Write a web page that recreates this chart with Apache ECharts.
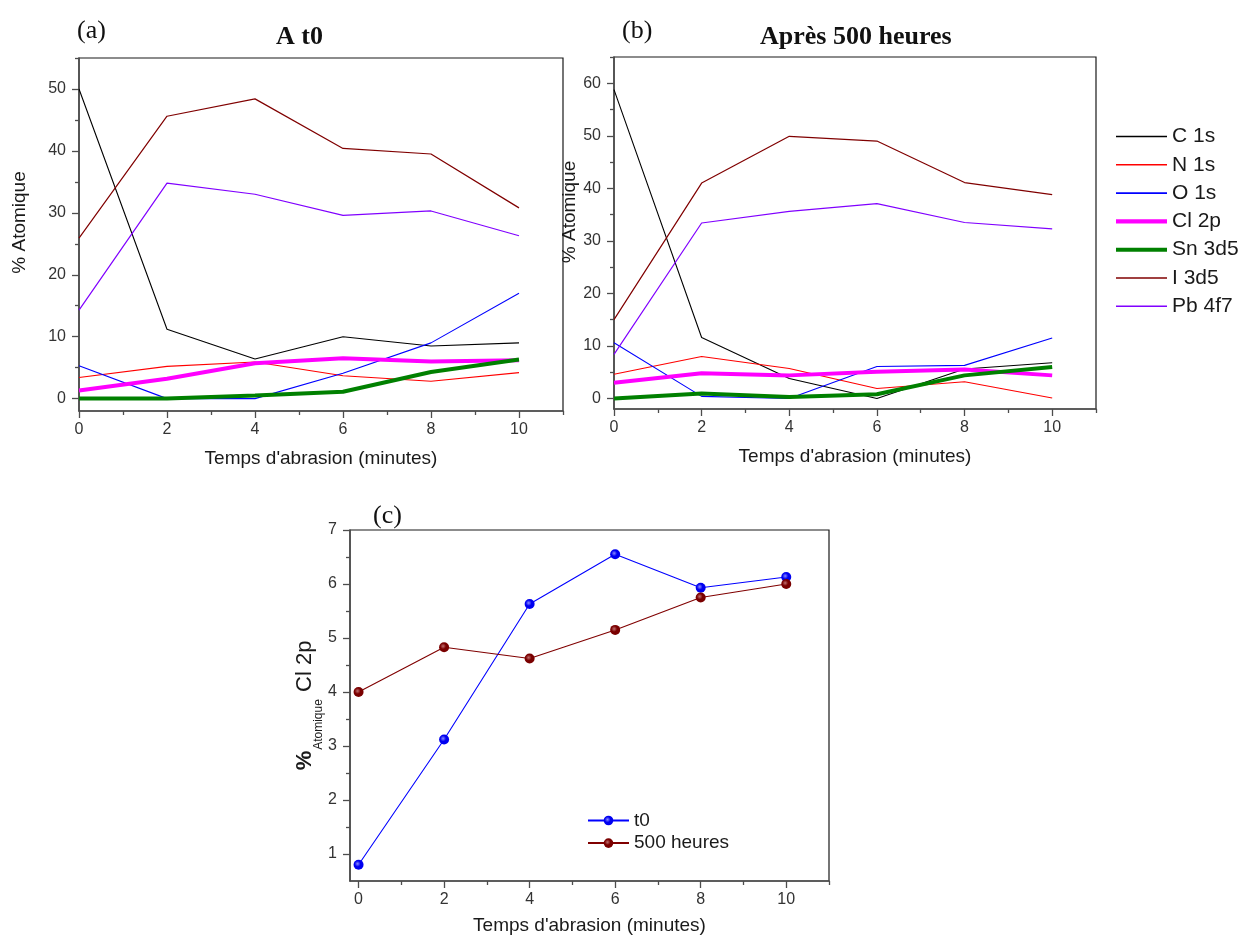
<!DOCTYPE html>
<html>
<head>
<meta charset="utf-8">
<script src="https://cdn.jsdelivr.net/npm/echarts@6/dist/echarts.min.js"></script>
<style>html,body{margin:0;padding:0;background:#fff}#chart{width:1250px;height:935px}</style>
</head>
<body>
<div id="chart"></div>
<script>
// ---------- data ----------
const minutes = [0, 2, 4, 6, 8, 10];
const elements = ['C 1s', 'N 1s', 'O 1s', 'Cl 2p', 'Sn 3d5', 'I 3d5', 'Pb 4f7'];

// (a) A t0
const t0_C  = [50.0, 11.2, 6.4, 10.0, 8.5, 9.0];
const t0_N  = [3.4, 5.2, 5.9, 3.7, 2.8, 4.2];
const t0_O  = [5.3, 0.0, 0.0, 4.1, 9.0, 17.0];
const t0_Cl = [1.3, 3.2, 5.7, 6.5, 6.0, 6.2];
const t0_Sn = [0.0, 0.0, 0.5, 1.1, 4.3, 6.3];
const t0_I  = [25.9, 45.6, 48.4, 40.4, 39.5, 30.8];
const t0_Pb = [14.3, 34.8, 33.0, 29.6, 30.3, 26.3];

// (b) Après 500 heures
const h500_C  = [58.8, 11.6, 3.8, 0.0, 5.6, 6.8];
const h500_N  = [4.6, 8.0, 5.7, 1.9, 3.2, 0.1];
const h500_O  = [10.6, 0.4, 0.0, 6.1, 6.3, 11.5];
const h500_Cl = [3.0, 4.8, 4.4, 5.1, 5.5, 4.4];
const h500_Sn = [0.0, 0.95, 0.3, 0.8, 4.4, 6.0];
const h500_I  = [15.0, 41.0, 49.9, 49.0, 41.1, 38.8];
const h500_Pb = [8.4, 33.4, 35.6, 37.1, 33.5, 32.3];

// (c) Cl 2p
const cl_t0  = [0.80, 3.12, 5.63, 6.55, 5.93, 6.13];
const cl_500 = [4.00, 4.83, 4.62, 5.15, 5.75, 6.00];

// tick values
const xMajor = [0, 2, 4, 6, 8, 10];
const xMinor = [1, 3, 5, 7, 9, 11];
const yMajorA = [0, 10, 20, 30, 40, 50];
const yMinorA = [5, 15, 25, 35, 45, 55];
const yMajorB = [0, 10, 20, 30, 40, 50, 60];
const yMinorB = [5, 15, 25, 35, 45, 55, 65];
const yMajorC = [1, 2, 3, 4, 5, 6, 7];
const yMinorC = [1.5, 2.5, 3.5, 4.5, 5.5, 6.5];

// ---------- styling ----------
const SANS = "'Liberation Sans', Arial, sans-serif";
const SERIF = "'Liberation Serif', 'Times New Roman', serif";
const AXC = '#4d4d4d';
const elemColors = ['#000000', '#ff0000', '#0000ff', '#ff00ff', '#008000', '#800000', '#8000ff'];
const elemWidths = [1.1, 1.1, 1.1, 4, 4, 1.2, 1.2];

function xAxes(grid, min, max, name, nameGap) {
  return [{
    type: 'value', gridIndex: grid, min: min, max: max, position: 'bottom',
    name: name, nameLocation: 'middle', nameGap: nameGap,
    nameTextStyle: { fontFamily: SANS, fontSize: 19, color: '#1a1a1a' },
    axisLine: { show: true, onZero: false, lineStyle: { color: AXC, width: 1.5 } },
    axisTick: { show: true, inside: false, length: 7, customValues: xMajor, lineStyle: { color: AXC, width: 1.3 } },
    axisLabel: { show: true, margin: 11, customValues: xMajor, fontFamily: SANS, fontSize: 16, color: '#333' },
    splitLine: { show: false }
  }, {
    type: 'value', gridIndex: grid, min: min, max: max, position: 'bottom',
    axisLine: { show: false, onZero: false },
    axisTick: { show: true, inside: false, length: 4, customValues: xMinor, lineStyle: { color: AXC, width: 1.3 } },
    axisLabel: { show: false }, splitLine: { show: false }
  }];
}
function yAxes(grid, min, max, major, minor, name, nameGap, nameStyle) {
  return [{
    type: 'value', gridIndex: grid, min: min, max: max, position: 'left',
    name: name, nameLocation: 'middle', nameGap: nameGap,
    nameTextStyle: nameStyle,
    axisLine: { show: true, onZero: false, lineStyle: { color: AXC, width: 1.5 } },
    axisTick: { show: true, inside: false, length: 7, customValues: major, lineStyle: { color: AXC, width: 1.3 } },
    axisLabel: { show: true, margin: 13, customValues: major, fontFamily: SANS, fontSize: 16, color: '#333' },
    splitLine: { show: false }
  }, {
    type: 'value', gridIndex: grid, min: min, max: max, position: 'left',
    axisLine: { show: false, onZero: false },
    axisTick: { show: true, inside: false, length: 4, customValues: minor, lineStyle: { color: AXC, width: 1.3 } },
    axisLabel: { show: false }, splitLine: { show: false }
  }];
}

function pairs(ys) { return minutes.map((x, i) => [x, ys[i]]); }

const setA = [t0_C, t0_N, t0_O, t0_Cl, t0_Sn, t0_I, t0_Pb];
const setB = [h500_C, h500_N, h500_O, h500_Cl, h500_Sn, h500_I, h500_Pb];

const series = [];
[[setA, 0], [setB, 2]].forEach(([set, axisIdx]) => {
  set.forEach((vals, k) => {
    series.push({
      type: 'line', name: elements[k], xAxisIndex: axisIdx, yAxisIndex: axisIdx,
      data: pairs(vals), symbol: 'none', showSymbol: false,
      lineStyle: { color: elemColors[k], width: elemWidths[k] },
      itemStyle: { color: elemColors[k] },
      emphasis: { disabled: true }
    });
  });
});
function ball(light, dark) {
  return { type: 'radial', x: 0.4, y: 0.4, r: 0.65,
    colorStops: [{ offset: 0, color: light }, { offset: 0.45, color: dark }, { offset: 1, color: dark }] };
}
series.push({
  type: 'line', name: 't0', xAxisIndex: 4, yAxisIndex: 4, data: pairs(cl_t0),
  symbol: 'circle', symbolSize: 10, showSymbol: true,
  lineStyle: { color: '#0000ff', width: 1.1 },
  itemStyle: { color: ball('#8c8cff', '#0000f0'), borderWidth: 0 },
  emphasis: { disabled: true }
});
series.push({
  type: 'line', name: '500 heures', xAxisIndex: 4, yAxisIndex: 4, data: pairs(cl_500),
  symbol: 'circle', symbolSize: 10, showSymbol: true,
  lineStyle: { color: '#800000', width: 1.1 },
  itemStyle: { color: ball('#c07070', '#7a0000'), borderWidth: 0 },
  emphasis: { disabled: true }
});

const yNameStyleAB = (pad) => ({ fontFamily: SANS, fontSize: 19, color: '#1a1a1a', padding: [0, 0, 0, pad] });
const yNameStyleC = {
  fontFamily: SANS, color: '#1a1a1a',
  rich: {
    p: { fontFamily: SANS, fontSize: 22, fontWeight: 'bold', color: '#1a1a1a', verticalAlign: 'top', lineHeight: 24 },
    s: { fontFamily: SANS, fontSize: 12, color: '#1a1a1a', verticalAlign: 'top', lineHeight: 12, padding: [18, 1, 0, 1] },
    n: { fontFamily: SANS, fontSize: 22, color: '#1a1a1a', verticalAlign: 'top', lineHeight: 24 }
  }
};

const titleStyle = (size, weight) => ({ fontFamily: SERIF, fontSize: size, fontWeight: weight, color: '#111' });

const thin = 'path://M0,0H50V1.6H0Z';
const thick = 'path://M0,0H50V4H0Z';
const legendIcons = [thin, thin, thin, thick, thick, thin, thin];

const option = {
  animation: false,
  backgroundColor: '#ffffff',
  title: [
    { text: '(a)', left: 77, top: 18, padding: 0, textStyle: titleStyle(26, 'normal') },
    { text: 'A t0', left: 276, top: 24, padding: 0, textStyle: titleStyle(26, 'bold') },
    { text: '(b)', left: 622, top: 18, padding: 0, textStyle: titleStyle(26, 'normal') },
    { text: 'Après 500 heures', left: 760, top: 24, padding: 0, textStyle: titleStyle(26, 'bold') },
    { text: '(c)', left: 373, top: 503, padding: 0, textStyle: titleStyle(26, 'normal') }
  ],
  grid: [
    { left: 79, top: 58, width: 484, height: 353, show: true, borderColor: '#1a1a1a', borderWidth: 1.2, backgroundColor: 'transparent', outerBoundsMode: 'none', containLabel: false },
    { left: 614, top: 57, width: 482, height: 352, show: true, borderColor: '#1a1a1a', borderWidth: 1.2, backgroundColor: 'transparent', outerBoundsMode: 'none', containLabel: false },
    { left: 350, top: 530, width: 479, height: 351, show: true, borderColor: '#1a1a1a', borderWidth: 1.2, backgroundColor: 'transparent', outerBoundsMode: 'none', containLabel: false }
  ],
  xAxis: [].concat(
    xAxes(0, 0, 11, "Temps d'abrasion (minutes)", 38),
    xAxes(1, 0, 11, "Temps d'abrasion (minutes)", 38),
    xAxes(2, -0.2, 11, "Temps d'abrasion (minutes)", 35)
  ),
  yAxis: [].concat(
    yAxes(0, -2, 55, yMajorA, yMinorA, '% Atomique', 50, yNameStyleAB(24)),
    yAxes(1, -2, 65, yMajorB, yMinorB, '% Atomique', 32, yNameStyleAB(42)),
    yAxes(2, 0.5, 7, yMajorC, yMinorC, '{p|%}{s|Atomique}{n| Cl 2p}', 24, yNameStyleC)
  ),
  legend: [
    {
      data: elements.map((n, i) => ({ name: n, icon: legendIcons[i] })),
      orient: 'vertical', left: 1116, top: 126, padding: 0,
      itemWidth: 51, itemHeight: 14, itemGap: 7.3, selectedMode: false,
      itemStyle: { borderWidth: 0 },
      textStyle: { fontFamily: SANS, fontSize: 21, lineHeight: 21, color: '#1a1a1a' }
    },
    {
      data: ['t0', '500 heures'], orient: 'vertical', left: 587, top: 811, padding: 0,
      itemWidth: 41, itemHeight: 12, itemGap: 3.6, selectedMode: false,
      textStyle: { fontFamily: SANS, fontSize: 19, color: '#1a1a1a', lineHeight: 19 }
    }
  ],
  series: series
};

const chart = echarts.init(document.getElementById('chart'), null, { renderer: 'canvas' });
chart.setOption(option);
</script>
</body>
</html>
